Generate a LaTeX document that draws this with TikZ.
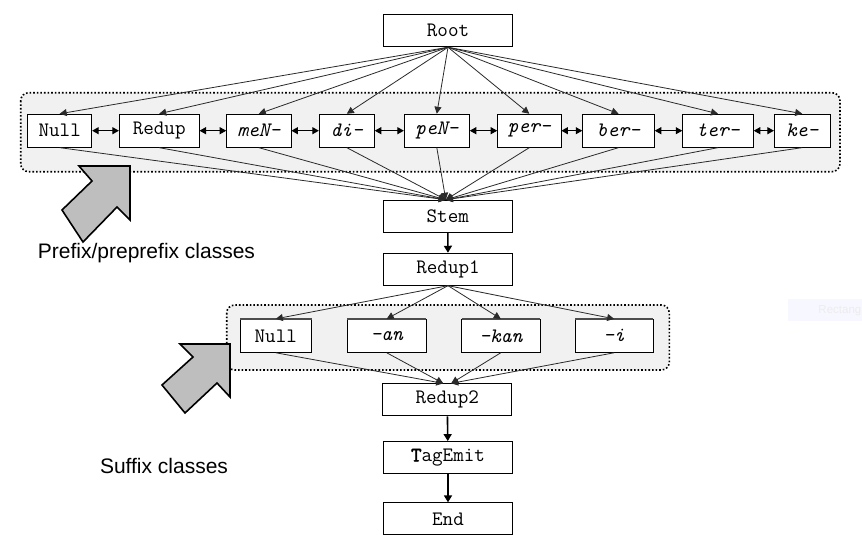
\documentclass[tikz,border=0pt]{standalone}
\usepackage{fontspec}
\usetikzlibrary{arrows.meta}
\newfontfamily\monof{Latin Modern Mono}
\newfontfamily\monofb[FakeBold=2]{Latin Modern Mono}
\newfontfamily\sansf{Liberation Sans}
\definecolor{grpfill}{HTML}{F1F1F1}
\definecolor{linec}{HTML}{2A2A2A}
\definecolor{blockc}{HTML}{BEBEBE}
\begin{document}
\begin{tikzpicture}[x=1pt,y=-1pt,
  box/.style={draw=black, line width=0.9pt, fill=white, inner sep=0pt,
    minimum height=32pt, font=\monof\fontsize{20.5}{22}\selectfont},
  sbox/.style={box, minimum height=33pt, append after command={
    (\tikzlastnode.north west) edge[draw=black!70, line width=2.2pt, shorten <=0.5pt, shorten >=0.5pt] (\tikzlastnode.north east)}},
  grp/.style={draw=black, line width=1.6pt, dotted, fill=grpfill, rounded corners=8pt},
  conn/.style={draw=linec, line width=0.8pt, -{Triangle[length=7pt,width=7pt]}},
  dconn/.style={draw=black, line width=1pt, {Triangle[length=6.5pt,width=7pt]}-{Triangle[length=6.5pt,width=7pt]}},
  mainarr/.style={draw=black, line width=1.6pt, -{Triangle[length=7pt,width=8pt]}},
  blockarr/.style={draw=black, line width=1.6pt, fill=blockc, line join=miter},
  lbl/.style={font=\sansf\fontsize{21}{24}\selectfont, inner sep=0pt}
]
\useasboundingbox (0,0) rectangle (862,542);
\fill[white] (0,0) rectangle (862,542);

% faint artefact at right
\fill[blue!3] (788,299) rectangle (862,321);
\node[anchor=east, inner sep=0pt, text=black!7, font=\sansf\fontsize{11.5}{13}\selectfont] (rect) at (861.5,310.5) {Rectang};

% groups
\draw[grp] (20.7,92.7) rectangle (840,171.7);
\draw[grp] (226.7,305) rectangle (669.3,370);

% main nodes
\node[box, minimum width=129pt] (root) at (448,30.8) {Root};
\node[box, minimum width=129pt] (stem) at (447.8,216.2) {Stem};
\node[box, minimum width=129pt] (redup1) at (448,269.2) {Redup1};
\node[box, minimum width=129pt] (redup2) at (447.2,399.8) {Redup2};
\node[box, minimum width=129pt] (tag) at (448,457.5) {{\monofb T}agEmit};
\node[box, minimum width=129pt] (end) at (448,518.8) {End};

% prefix nodes
\node[box, minimum width=64pt, minimum height=33pt] (pnull) at (59.7,130.7) {Null};
\node[box, minimum width=79.7pt, minimum height=33pt] (predup) at (159.2,130.7) {Redup};
\node[box, minimum width=64.3pt, minimum height=33pt] (pmen) at (258.8,130.7) {\itshape meN-};
\node[box, minimum width=55pt, minimum height=33pt] (pdi) at (346.8,130.7) {\itshape di-};
\node[box, minimum width=65pt, minimum height=33pt] (ppen) at (436.8,130.7) {\itshape peN-};
\node[box, minimum width=63.3pt, minimum height=33pt] (pper) at (529.3,130.7) {\itshape per-};
\node[box, minimum width=71.6pt, minimum height=33pt] (pber) at (618.5,130.7) {\itshape ber-};
\node[box, minimum width=70.6pt, minimum height=33pt] (pter) at (718,130.7) {\itshape ter-};
\node[box, minimum width=55.7pt, minimum height=33pt] (pke) at (802.2,130.7) {\itshape ke-};

% suffix nodes
\node[sbox, minimum width=71.7pt] (snull) at (275.8,335.8) {Null};
\node[sbox, minimum width=78.7pt] (san) at (386.7,335.8) {\itshape -an};
\node[sbox, minimum width=78.3pt] (skan) at (500.8,335.8) {\itshape -kan};
\node[sbox, minimum width=78.3pt] (si) at (614.2,335.8) {\itshape -i};

% root to prefixes
\foreach \n in {pnull,predup,pmen,pdi,ppen,pper,pber,pter,pke}
  \draw[conn] (root.south) -- (\n.north);
% prefixes to stem
\foreach \n in {pnull,predup,pmen,pdi,ppen,pper,pber,pter,pke}
  \draw[conn] (\n.south) -- ([xshift=-2pt]stem.north);
% neighbours
\draw[dconn] (pnull) -- (predup);
\draw[dconn] (predup) -- (pmen);
\draw[dconn] (pmen) -- (pdi);
\draw[dconn] (pdi) -- (ppen);
\draw[dconn] (ppen) -- (pper);
\draw[dconn] (pper) -- (pber);
\draw[dconn] (pber) -- (pter);
\draw[dconn] (pter) -- (pke);

% main chain
\draw[mainarr] (stem) -- (redup1);
\draw[mainarr] (redup2) -- (tag);
\draw[mainarr] (tag) -- (end);

% redup1 to suffixes
\foreach \n in {snull,san,skan,si}
  \draw[conn] (redup1.south) -- (\n.north);
% suffixes to redup2
\draw[conn] (snull.south) -- ([xshift=-4pt]redup2.north);
\draw[conn] (san.south) -- ([xshift=-4pt]redup2.north);
\draw[conn] (skan.south) -- ([xshift=4pt]redup2.north);
\draw[conn] (si.south) -- ([xshift=4pt]redup2.north);

% block arrows
\draw[blockarr] (130,166) -- (130,220) -- (117,207) -- (83,242) -- (62,210) -- (92,181) -- (79,166) -- cycle;
\draw[blockarr] (230,344) -- (230,397) -- (217,383) -- (185,413) -- (162,385) -- (193,357) -- (180,344) -- cycle;

% labels
\node[lbl] (plabel) at (146.5,253) {Prefix/preprefix classes};
\node[lbl] (slabel) at (164,466) {Suffix classes};
\end{tikzpicture}
\end{document}
